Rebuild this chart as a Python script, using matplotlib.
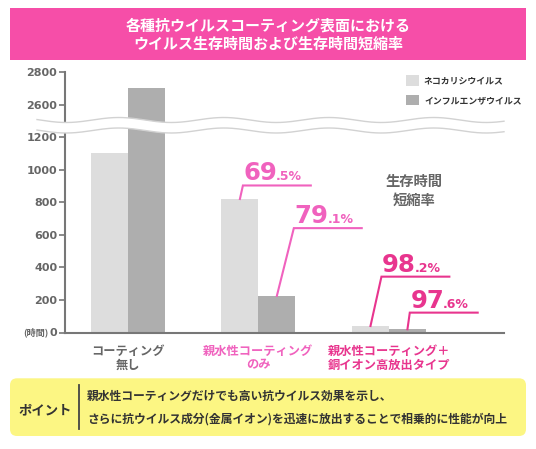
import numpy as np
import matplotlib.pyplot as plt
from matplotlib.patches import Rectangle, FancyBboxPatch, Polygon
from matplotlib.lines import Line2D
from matplotlib.transforms import Affine2D

plt.rcParams['font.family'] = ['Noto Sans CJK JP', 'DejaVu Sans']

# data
groups = ['コーティング\n無し', '親水性コーティング\nのみ', '親水性コーティング＋\n銅イオン高放出タイプ']
group_colors = ['#666666', '#f062be', '#e8358e']
series = ['ネコカリシウイルス', 'インフルエンザウイルス']
calici = [1100, 820, 40]
influenza = [2700, 225, 20]
yticks = [0, 200, 400, 600, 800, 1000, 1200, 2600, 2800]

rates = ['69.5', '79.1', '98.2', '97.6']
rate_bar = [(1, 0), (1, 1), (2, 0), (2, 1)]    # (group, series) each rate points to
rate_colors = ['#f062be', '#f062be', '#e8358e', '#e8358e']
# where the leader lines go (label layout)
label_y = [903, 641, 343, 122]
label_dx = [0.023, 0.13, 0.084, 0.018]

title1 = '各種抗ウイルスコーティング表面における'
title2 = 'ウイルス生存時間および生存時間短縮率'
point_lines = ['親水性コーティングだけでも高い抗ウイルス効果を示し、',
               'さらに抗ウイルス成分(金属イオン)を迅速に放出することで相乗的に性能が向上']

W, H = 536, 449
fig = plt.figure(figsize=(W / 100, H / 100), dpi=100)
# pixel coords, origin top-left
pix = Affine2D().scale(1 / W, -1 / H).translate(0, 1) + fig.transFigure


# broken y axis: squeeze 1250..2550 into a small gap
def fwd(v):
    v = np.asarray(v, dtype=float)
    return np.where(v <= 1250, v,
                    np.where(v >= 2550, v - 1200, 1250 + (v - 1250) * 100 / 1300))


def inv(d):
    d = np.asarray(d, dtype=float)
    return np.where(d <= 1250, d,
                    np.where(d >= 1350, d + 1200, 1250 + (d - 1250) * 13))


ax = fig.add_axes([65 / W, 1 - 332.5 / H, (504 - 65) / W, (332.5 - 72) / H])
ax.set_yscale('function', functions=(fwd, inv))
ax.set_ylim(0, 2800)
ax.set_xlim(-0.481, 2.881)

x = np.arange(len(groups))
w = 0.283
b1 = ax.bar(x - w / 2, calici, w, color='#dddddd', label=series[0], zorder=2)
b2 = ax.bar(x + w / 2, influenza, w, color='#aeaeae', label=series[1], zorder=2)
values = [calici, influenza]

for s in ['top', 'right']:
    ax.spines[s].set_visible(False)
for s in ['left', 'bottom']:
    ax.spines[s].set_color('#777777')
    ax.spines[s].set_linewidth(1.5)

ax.set_yticks(yticks)
ax.set_yticklabels([str(t) for t in yticks])
ax.minorticks_off()
ax.tick_params(axis='y', length=4, width=1.2, color='#777777', pad=1.5,
               labelsize=8, labelcolor='#666666')
for lbl in ax.get_yticklabels():
    lbl.set_fontweight('bold')
    lbl.set_family('DejaVu Sans')
fig.text(48.5, 332.5, '(時間)', transform=pix, ha='right', va='center',
         fontsize=6.6, fontweight='bold', color='#666666')

ax.set_xticks(x)
ax.set_xticklabels(groups)
ax.tick_params(axis='x', length=0, pad=9)
for lbl, c in zip(ax.get_xticklabels(), group_colors):
    lbl.set_color(c)
    lbl.set_fontweight('bold')
    lbl.set_fontsize(8.8)
    lbl.set_linespacing(1.05)

# rate labels with leader lines
for i, r in enumerate(rates):
    g, s = rate_bar[i]
    bx = g + (s - 0.5) * w
    by = values[s][g]
    tx = bx + label_dx[i]
    ty = label_y[i]
    c = rate_colors[i]
    ax.plot([bx, tx, tx + 0.52], [by, ty, ty], color=c, lw=1.5, zorder=3,
            solid_joinstyle='miter')
    big, small = r.split('.')
    t = ax.annotate(big, xy=(tx, ty), xytext=(0.5, 3.6), textcoords='offset points',
                    ha='left', va='baseline', fontsize=17.6, fontweight='bold',
                    color=c, family='DejaVu Sans')
    ax.annotate('.' + small + '%', xy=(1, ty), xycoords=(t, 'data'), xytext=(-0.8, 3.6),
                textcoords='offset points', ha='left', va='baseline', fontsize=9,
                fontweight='bold', color=c, family='DejaVu Sans')

fig.text(413.7, 191, '生存時間\n短縮率', transform=pix, ha='center', va='center',
         fontsize=10.3, fontweight='bold', color='#666666', linespacing=1.45)

ax.legend(loc='upper left', bbox_to_anchor=(405.7, 75), bbox_transform=pix,
          frameon=False, borderpad=0, borderaxespad=0, handlelength=1.5,
          handleheight=1.5, handletextpad=0.56, labelspacing=0.98,
          prop={'weight': 'bold', 'size': 6.4}, labelcolor='#333333')

# wavy break band
xs = np.linspace(37, 504, 300)
up = 120 + 2.5 * np.sin(2 * np.pi * (xs - 40) / 105)
lo = up + 10.5
band = np.column_stack([np.r_[xs, xs[::-1]], np.r_[up, lo[::-1]]])
fig.add_artist(Polygon(band, closed=True, transform=pix, fc='white', ec='none', zorder=5))
fig.add_artist(Line2D(xs, up, transform=pix, color='#d2d2d2', lw=1.0, zorder=6))
fig.add_artist(Line2D(xs, lo, transform=pix, color='#d2d2d2', lw=1.0, zorder=6))

# title box
fig.add_artist(Rectangle((10, 8.3), 516, 51.7, transform=pix, fc='#f64ea8', ec='none'))
fig.text(268, 25, title1, transform=pix, ha='center', va='center',
         fontsize=10.8, fontweight='bold', color='white')
fig.text(268, 43.3, title2, transform=pix, ha='center', va='center',
         fontsize=10.8, fontweight='bold', color='white')

# point box
fig.add_artist(FancyBboxPatch((10, 378.3), 516, 57.7, transform=pix,
                              boxstyle='round,pad=0,rounding_size=7',
                              fc='#fcf683', ec='none'))
fig.text(45.7, 410, 'ポイント', transform=pix, ha='center', va='center',
         fontsize=9.6, fontweight='bold', color='#333333')
fig.add_artist(Line2D([79, 79], [385, 429.3], transform=pix, color='#444444', lw=1.3))
fig.text(87, 396, point_lines[0], transform=pix, ha='left', va='center',
         fontsize=8.5, fontweight='bold', color='#333333')
fig.text(87, 419.3, point_lines[1], transform=pix, ha='left', va='center',
         fontsize=8.5, fontweight='bold', color='#333333')

fig.savefig('out.png', dpi=100)
